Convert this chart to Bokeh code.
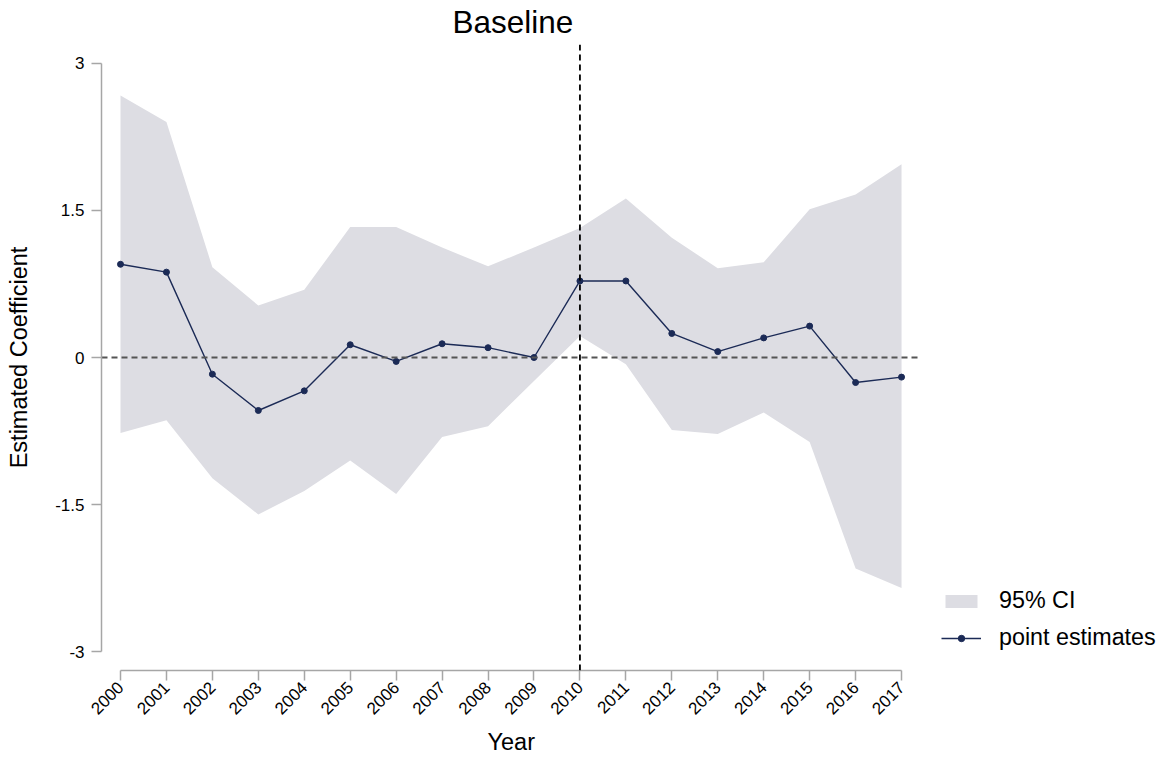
import math
from bokeh.plotting import figure
from bokeh.models import FixedTicker, Span, Legend, LegendItem, Range1d, ColumnDataSource, Title
from bokeh.embed import file_html
from bokeh.resources import INLINE

years = list(range(2000, 2018))
estimates = [0.95, 0.87, -0.17, -0.54, -0.34, 0.13, -0.04, 0.14, 0.10, 0.0,
             0.78, 0.78, 0.245, 0.06, 0.20, 0.32, -0.255, -0.20]
ci_upper = [2.67, 2.40, 0.92, 0.53, 0.69, 1.33, 1.33, 1.12, 0.93, 1.12,
            1.32, 1.62, 1.22, 0.91, 0.97, 1.51, 1.66, 1.97]
ci_lower = [-0.77, -0.64, -1.23, -1.60, -1.36, -1.05, -1.39, -0.81, -0.70, -0.24,
            0.22, -0.07, -0.74, -0.78, -0.56, -0.86, -2.15, -2.35]
y_ticks = [-3, -1.5, 0, 1.5, 3]
y_tick_labels = ["-3", "-1.5", "0", "1.5", "3"]
event_year = 2010

FONT = "Liberation Sans"
NAVY = "#1b2a56"

# layout: frame extends to the right edge so the legend (drawn in the frame) is visible
X_PAD = 0.4136          # gap (in years) between axis ends and plot area
X_RIGHT_EXTRA = 5.68    # room on the right for the legend
Y_PAD = 0.19

src = ColumnDataSource(dict(year=years, est=estimates, lo=ci_lower, hi=ci_upper))

p = figure(width=1162, height=760, output_backend="svg", toolbar_location=None,
           x_range=Range1d(years[0] - X_PAD, years[-1] + X_RIGHT_EXTRA),
           y_range=Range1d(y_ticks[0] - Y_PAD, y_ticks[-1] + Y_PAD),
           min_border_left=101, min_border_right=0, min_border_top=44,
           min_border_bottom=90)

p.add_layout(Title(text="Baseline", align="left", offset=351, text_font=FONT,
                   text_font_size="31.5px", text_font_style="normal",
                   vertical_align="top",
                   text_color="black", standoff=5), "above")

p.xgrid.visible = False
p.ygrid.visible = False
p.outline_line_color = None

band = p.varea(x="year", y1="lo", y2="hi", source=src, fill_color="#dddde3")
line = p.line(x="year", y="est", source=src, line_color=NAVY, line_width=1.4)
pts = p.scatter(x="year", y="est", source=src, size=6, fill_color=NAVY, line_color=NAVY)

# zero reference line spanning the plot area (not the legend room)
p.segment(x0=[years[0] - X_PAD], y0=[0], x1=[years[-1] + X_PAD], y1=[0],
          line_color="#555555", line_dash="6 4", line_width=1.8)
p.add_layout(Span(location=event_year, dimension="height", line_color="black",
                  line_dash="6 4", line_width=1.8))

# axes
p.xaxis.ticker = FixedTicker(ticks=years)
p.xaxis.bounds = (years[0], years[-1])
p.xaxis.major_label_orientation = math.pi / 4
p.yaxis.ticker = FixedTicker(ticks=y_ticks)
p.yaxis.bounds = (y_ticks[0], y_ticks[-1])
p.yaxis.major_label_overrides = {t: l for t, l in zip(y_ticks, y_tick_labels)}
p.yaxis.major_label_orientation = "horizontal"
for ax in (p.xaxis[0], p.yaxis[0]):
    ax.axis_line_color = "#a6a6a6"
    ax.axis_line_width = 1.5
    ax.major_tick_line_color = "#a6a6a6"
    ax.major_tick_line_width = 1.5
    ax.major_tick_out = 10
    ax.major_tick_in = 0
    ax.minor_tick_line_color = None
    ax.major_label_text_font = FONT
    ax.major_label_text_font_size = "17px"
    ax.major_label_text_color = "black"
    ax.axis_label_text_font = FONT
    ax.axis_label_text_font_size = "23.5px"
    ax.axis_label_text_font_style = "normal"
    ax.axis_label_text_color = "black"
p.yaxis.axis_label = "Estimated Coefficient"
p.xaxis.major_label_standoff = 4
p.yaxis.major_label_standoff = 7
p.yaxis.axis_label_standoff = 20

p.add_layout(Title(text="Year", align="left", offset=386, text_font=FONT,
                   text_font_size="23.5px", text_font_style="normal",
                   text_color="black", standoff=8), "below")

legend = Legend(items=[LegendItem(label="95% CI", renderers=[band]),
                       LegendItem(label="point estimates", renderers=[line, pts])],
                location=(840, 19), border_line_color=None,
                background_fill_alpha=0, glyph_width=40, glyph_height=16,
                label_standoff=18, spacing=10, padding=10, margin=0,
                label_text_font=FONT, label_text_font_size="23.3px",
                label_text_color="black")
p.add_layout(legend)

open("out.html", "w").write(file_html(p, INLINE))
